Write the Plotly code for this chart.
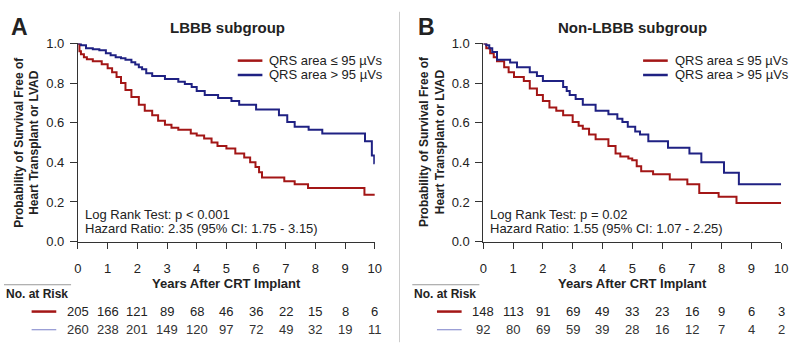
import plotly.graph_objects as go

W, H = 800, 355
def px(x): return x / W
def py(y): return 1 - y / H

# ---------------- data ----------------
years = list(range(0, 11))

# Panel A: LBBB subgroup
lbbb_low_t = [0, 0.05, 0.1, 0.2, 0.3, 0.5, 0.8, 1.0, 1.15, 1.3, 1.45, 1.6, 1.8, 2.05, 2.25, 2.5, 2.7,
              2.93, 3.15, 3.38, 3.8, 4.0, 4.25, 4.5, 4.7, 5.0, 5.3, 5.6, 5.8, 5.98, 6.1, 6.2, 6.95,
              7.3, 7.75, 9.65, 10.0]
lbbb_low_s = [1.0, 0.96, 0.945, 0.93, 0.92, 0.91, 0.895, 0.875, 0.855, 0.83, 0.80, 0.765, 0.73, 0.69,
              0.66, 0.637, 0.61, 0.59, 0.575, 0.565, 0.546, 0.535, 0.52, 0.50, 0.483, 0.47, 0.444,
              0.425, 0.40, 0.377, 0.35, 0.324, 0.305, 0.29, 0.27, 0.236, 0.236]
lbbb_high_t = [0, 0.1, 0.27, 0.5, 0.72, 0.94, 1.1, 1.27, 1.45, 1.6, 1.8, 1.93, 2.05, 2.16, 2.3, 2.5,
               2.93, 3.38, 3.6, 3.83, 4.0, 4.27, 4.72, 5.17, 5.43, 6.0, 6.77, 7.05, 7.3, 7.77, 8.23,
               9.67, 9.9, 9.98, 10.0]
lbbb_high_s = [1.0, 0.99, 0.975, 0.97, 0.966, 0.95, 0.94, 0.93, 0.925, 0.918, 0.905, 0.894, 0.88, 0.87,
               0.85, 0.836, 0.82, 0.807, 0.795, 0.78, 0.76, 0.74, 0.725, 0.71, 0.69, 0.667, 0.638,
               0.604, 0.58, 0.565, 0.546, 0.507, 0.435, 0.396, 0.396]
lbbb_risk_low = [205, 166, 121, 89, 68, 46, 36, 22, 15, 8, 6]
lbbb_risk_high = [260, 238, 201, 149, 120, 97, 72, 49, 32, 19, 11]

# Panel B: Non-LBBB subgroup
non_low_t = [0, 0.1, 0.23, 0.35, 0.46, 0.7, 0.85, 1.03, 1.36, 1.56, 1.8, 2.0, 2.22, 2.45, 2.68, 3.0,
             3.2, 3.34, 3.55, 3.77, 4.2, 4.44, 4.6, 4.87, 5.0, 5.15, 5.3, 5.7, 6.26, 6.85, 7.25, 7.9,
             8.5, 10.0]
non_low_s = [1.0, 0.975, 0.95, 0.93, 0.91, 0.88, 0.855, 0.83, 0.81, 0.773, 0.74, 0.71, 0.676, 0.66,
             0.638, 0.604, 0.585, 0.57, 0.54, 0.517, 0.483, 0.444, 0.43, 0.42, 0.41, 0.38, 0.355,
             0.34, 0.314, 0.29, 0.245, 0.227, 0.195, 0.195]
non_high_t = [0, 0.1, 0.2, 0.3, 0.46, 0.9, 1.13, 1.56, 1.8, 2.0, 2.68, 2.8, 2.9, 3.1, 3.34, 3.77, 4.2,
              4.5, 4.67, 4.85, 5.1, 5.26, 5.54, 6.2, 6.92, 7.32, 8.08, 8.58, 10.0]
non_high_s = [1.0, 0.99, 0.975, 0.957, 0.918, 0.903, 0.88, 0.855, 0.835, 0.81, 0.78, 0.76, 0.74, 0.72,
              0.69, 0.66, 0.643, 0.62, 0.604, 0.58, 0.556, 0.54, 0.507, 0.473, 0.444, 0.40, 0.348,
              0.29, 0.29]
non_risk_low = [148, 113, 91, 69, 49, 33, 23, 16, 9, 6, 3]
non_risk_high = [92, 80, 69, 59, 39, 28, 16, 12, 7, 4, 2]

labels_legend = ["QRS area \u2264 95 \u00b5Vs", "QRS area > 95 \u00b5Vs"]
y_ticks = [0, 0.2, 0.4, 0.6, 0.8, 1.0]
y_ticktext = ["0.0", "0.2", "0.4", "0.6", "0.8", "1.0"]

RED = "#A31616"
BLUE = "#1F2183"
RISK_BLUE = "#7A7FC8"
TXT = "#222222"
FONT = "Arial, Liberation Sans, sans-serif"

fig = go.Figure()
for t, s, c, xa, ya in [
    (lbbb_low_t, lbbb_low_s, RED, "x", "y"),
    (lbbb_high_t, lbbb_high_s, BLUE, "x", "y"),
    (non_low_t, non_low_s, RED, "x2", "y2"),
    (non_high_t, non_high_s, BLUE, "x2", "y2"),
]:
    fig.add_trace(go.Scatter(x=t, y=s, mode="lines", line=dict(color=c, width=2, shape="hv"),
                             xaxis=xa, yaxis=ya, showlegend=False, hoverinfo="skip"))

y_dom = [py(245), py(38)]
axis_common = dict(showline=True, linecolor="#333", linewidth=1, ticks="outside", tickcolor="#333",
                   showgrid=False, zeroline=False, tickfont=dict(size=13, color=TXT, family=FONT))
fig.update_layout(
    width=W, height=H, margin=dict(l=0, r=0, t=0, b=0),
    paper_bgcolor="white", plot_bgcolor="white", font=dict(family=FONT, color=TXT),
    xaxis=dict(domain=[px(75), px(376)], range=[0, 10], tickvals=years, ticklen=6,
               ticklabelstandoff=9, anchor="y", **axis_common),
    yaxis=dict(domain=y_dom, range=[0, 1], tickvals=y_ticks, ticktext=y_ticktext, ticklen=7,
               ticklabelstandoff=3, anchor="x", **axis_common),
    xaxis2=dict(domain=[px(486), px(788)], range=[0, 10], tickvals=years, ticklen=6,
                ticklabelstandoff=9, anchor="y2", **axis_common),
    yaxis2=dict(domain=y_dom, range=[0, 1], tickvals=y_ticks, ticktext=y_ticktext, ticklen=7,
                ticklabelstandoff=3, anchor="x2", **axis_common),
)

ann = []
shapes = []

def text(x, y, s, size=13, bold=False, xanchor="left", xref="paper", color=TXT, angle=0):
    ann.append(dict(x=x, y=y, xref=xref, yref="paper", text=("<b>%s</b>" % s) if bold else s,
                    showarrow=False, xanchor=xanchor, yanchor="middle", textangle=angle,
                    font=dict(size=size, color=color, family=FONT)))

panels = [
    dict(x0=0, letter="A", title="LBBB subgroup", title_x=227, xref="x", ax0=75,
         stats=["Log Rank Test: p < 0.001", "Hazard Ratio: 2.35 (95% CI: 1.75 - 3.15)"],
         risk=(lbbb_risk_low, lbbb_risk_high), leg_x=237),
    dict(x0=410, letter="B", title="Non-LBBB subgroup", title_x=637, xref="x2", ax0=486,
         stats=["Log Rank Test: p = 0.02", "Hazard Ratio: 1.55 (95% CI: 1.07 - 2.25)"],
         risk=(non_risk_low, non_risk_high), leg_x=648),
]
for p in panels:
    x0 = p["x0"]
    text(px(x0 + 5 if x0 == 0 else 418), py(21), p["letter"], size=23, bold=True)
    text(px(p["title_x"]), py(21), p["title"], size=15, bold=True, xanchor="center")
    text(px(p["ax0"] - 52), py(141), "Probability of Survival Free of<br>Heart Transplant or LVAD",
         size=12, bold=True, xanchor="center", angle=-90)
    text(px(p["ax0"] + 151), py(289), "Years After CRT Implant", size=13, bold=True, xanchor="center")
    text(px(p["ax0"] + 5), py(217), p["stats"][0], size=13)
    text(px(p["ax0"] + 5), py(231), p["stats"][1], size=13)
    # legend
    lx = p["leg_x"]
    for i, (lab, c) in enumerate(zip(labels_legend, [RED, BLUE])):
        yy = 56 + 15 * i
        shapes.append(dict(type="line", xref="paper", yref="paper", x0=px(lx), x1=px(lx + 25),
                           y0=py(yy), y1=py(yy), line=dict(color=c, width=2.5)))
        text(px(lx + 30), py(yy), lab, size=13)
    # number at risk
    nx = 0 if x0 == 0 else 414
    shapes.append(dict(type="line", xref="paper", yref="paper", x0=px(nx), x1=px(nx + 68),
                       y0=py(290), y1=py(290), line=dict(color="#999", width=1)))
    text(px(nx), py(300), "No. at Risk", size=12, bold=True)
    rlx = p["ax0"] - 47
    for j, (vals, c, w) in enumerate(zip(p["risk"], [RED, RISK_BLUE], [2.5, 1])):
        yy = 318 + 19 * j
        shapes.append(dict(type="line", xref="paper", yref="paper", x0=px(rlx), x1=px(rlx + 25),
                           y0=py(yy), y1=py(yy), line=dict(color=c, width=w)))
        for yr, v in zip(years, vals):
            text(yr, py(yy), str(v), size=13, xanchor="center", xref=p["xref"],
                 color=TXT if j == 0 else "#333")

# separator
shapes.append(dict(type="line", xref="paper", yref="paper", x0=px(401), x1=px(401),
                   y0=py(5), y1=py(350), line=dict(color="#cccccc", width=1)))

fig.update_layout(annotations=ann, shapes=shapes)
fig.write_html("out.html", config={"displayModeBar": False},
               post_script="document.body.style.margin='0';document.body.style.overflow='hidden';")
